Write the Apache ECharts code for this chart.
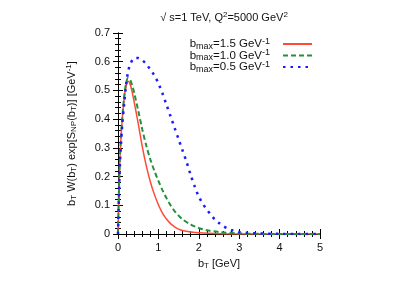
<!DOCTYPE html>
<html><head><meta charset="utf-8">
<script src="https://cdn.jsdelivr.net/npm/echarts@6/dist/echarts.min.js"></script>
<style>html,body{margin:0;padding:0;background:#fff}#c{width:403px;height:282px}</style>
</head><body><div id="c"></div>
<script>
const redX = [0,0.02,0.05,0.1,0.15,0.2,0.25,0.3,0.35,0.4,0.5,0.6,0.7,0.8,0.9,1.0,1.1,1.2,1.3,1.4,1.5,1.6,1.8,2.0,2.5,3.0,4.0,5.0];
const redY = [0,0.13,0.27,0.39,0.47,0.515,0.532,0.522,0.495,0.46,0.385,0.305,0.237,0.182,0.138,0.102,0.073,0.052,0.036,0.025,0.017,0.012,0.007,0.004,0.001,0.0003,0,0];
const greenX = [0,0.02,0.05,0.1,0.15,0.2,0.25,0.3,0.35,0.4,0.5,0.6,0.7,0.8,0.9,1.0,1.1,1.2,1.3,1.4,1.5,1.6,1.8,2.0,2.2,2.5,3.0,3.5,4.0,5.0];
const greenY = [0,0.13,0.27,0.39,0.475,0.525,0.543,0.537,0.518,0.492,0.43,0.365,0.308,0.26,0.22,0.185,0.153,0.125,0.1,0.08,0.064,0.051,0.033,0.021,0.013,0.007,0.002,0.0005,0,0];
const blueX = [0,0.02,0.05,0.1,0.15,0.2,0.25,0.3,0.4,0.5,0.6,0.7,0.8,0.9,1.0,1.1,1.2,1.3,1.4,1.5,1.6,1.7,1.8,1.9,2.0,2.1,2.2,2.3,2.4,2.5,2.6,2.7,2.8,2.9,3.0,3.2,3.5,4.0,4.5,5.0];
const blueY = [0,0.12,0.25,0.37,0.45,0.52,0.565,0.59,0.612,0.613,0.605,0.592,0.573,0.552,0.525,0.49,0.45,0.41,0.37,0.33,0.29,0.25,0.205,0.165,0.13,0.105,0.085,0.067,0.05,0.038,0.028,0.02,0.014,0.01,0.007,0.004,0.002,0.0005,0,0];
const xTicks = [0,1,2,3,4,5];
const yTicks = [0,0.1,0.2,0.3,0.4,0.5,0.6,0.7];
const seriesNames = ['b1','b2','b3'];
const legendLabels = ['{t|b}{s|max}{t|=1.5 GeV}{p|-1}','{t|b}{s|max}{t|=1.0 GeV}{p|-1}','{t|b}{s|max}{t|=0.5 GeV}{p|-1}'];

const zip = (xs, ys) => xs.map((x, i) => [x, ys[i]]);
const font = 'Liberation Sans';
const txt = '#111';
const rich = {
  t:{fontSize:11,fontFamily:font,color:txt,fontWeight:'normal'},
  s:{fontSize:8,fontFamily:font,color:txt,fontWeight:'normal',verticalAlign:'bottom',padding:[4,0,0,0]},
  p:{fontSize:8,fontFamily:font,color:txt,fontWeight:'normal',verticalAlign:'top',padding:[0,0,5,0]}
};
const legRich = {
  t:{fontSize:11.5,fontFamily:font,color:txt,lineHeight:12},
  s:{fontSize:9,fontFamily:font,color:txt,lineHeight:12,padding:[5,0,0,0]},
  p:{fontSize:9,fontFamily:font,color:txt,lineHeight:12,padding:[0,0,5,0]}
};
const axisCommon = {
  min:0, axisLine:{show:true,lineStyle:{color:'#000',width:1}},
  axisTick:{show:true,inside:true,length:5,lineStyle:{color:'#000'}},
  minorTick:{show:true,splitNumber:5,length:3,lineStyle:{color:'#000'}},
  splitLine:{show:false}
};
const chart = echarts.init(document.getElementById('c'), null, {renderer:'canvas'});
chart.setOption({
  animation:false,
  backgroundColor:'#fff',
  title:{text:'{t|√ s=1 TeV, Q}{p|2}{t|=5000 GeV}{p|2}', left:219, top:6, textAlign:'center',
    textStyle:{fontWeight:'normal', rich:rich}},
  grid:{left:118, top:33, right:83, bottom:48},
  legend:{right:90, top:37, orient:'vertical', align:'right', itemGap:-2.5, itemWidth:29, itemHeight:8, padding:0,
    data:seriesNames, itemStyle:{opacity:0},
    formatter:(n)=>legendLabels[seriesNames.indexOf(n)],
    textStyle:{rich:legRich, padding:[0,8,0,0]}},
  xAxis:[
    Object.assign({}, axisCommon, {type:'value', max:5, interval:1, position:'bottom',
      axisLabel:{fontSize:11,fontFamily:font,color:txt,margin:8,formatter:(v)=>String(v)},
      name:'{t|b}{s|T}{t| [GeV]}', nameLocation:'middle', nameGap:24, nameTextStyle:{rich:rich}}),
    Object.assign({}, axisCommon, {type:'value', max:5, interval:1, position:'top', axisLabel:{show:false}})
  ],
  yAxis:[
    Object.assign({}, axisCommon, {type:'value', max:0.7, interval:0.1, position:'left',
      axisLabel:{fontSize:11,fontFamily:font,color:txt,margin:8,formatter:(v)=>v===0?'0':v.toFixed(1)},
      name:'{t|b}{s|T}{t| W(b}{s|T}{t|) exp[S}{s|NP}{t|(b}{s|T}{t|)] [GeV}{p|-1}{t|]}', nameLocation:'middle', nameGap:40,
      nameTextStyle:{rich:rich}}),
    Object.assign({}, axisCommon, {type:'value', max:0.7, interval:0.1, position:'right', axisLabel:{show:false}})
  ],
  series:[
    {name:'b1', type:'line', data:zip(redX,redY), smooth:0.3, showSymbol:false, symbol:'none',
      lineStyle:{color:'#ff4a36', width:1.5, type:'solid'}, itemStyle:{color:'#ff4a36'}},
    {name:'b2', type:'line', data:zip(greenX,greenY), smooth:0.3, showSymbol:false, symbol:'none',
      lineStyle:{color:'#22913a', width:2, type:[5,3]}, itemStyle:{color:'#22913a'}},
    {name:'b3', type:'line', data:zip(blueX,blueY), smooth:0.3, showSymbol:false, symbol:'none',
      lineStyle:{color:'#1a1aff', width:2.5, type:[2.5,5]}, itemStyle:{color:'#1a1aff'}}
  ]
});
</script></body></html>
